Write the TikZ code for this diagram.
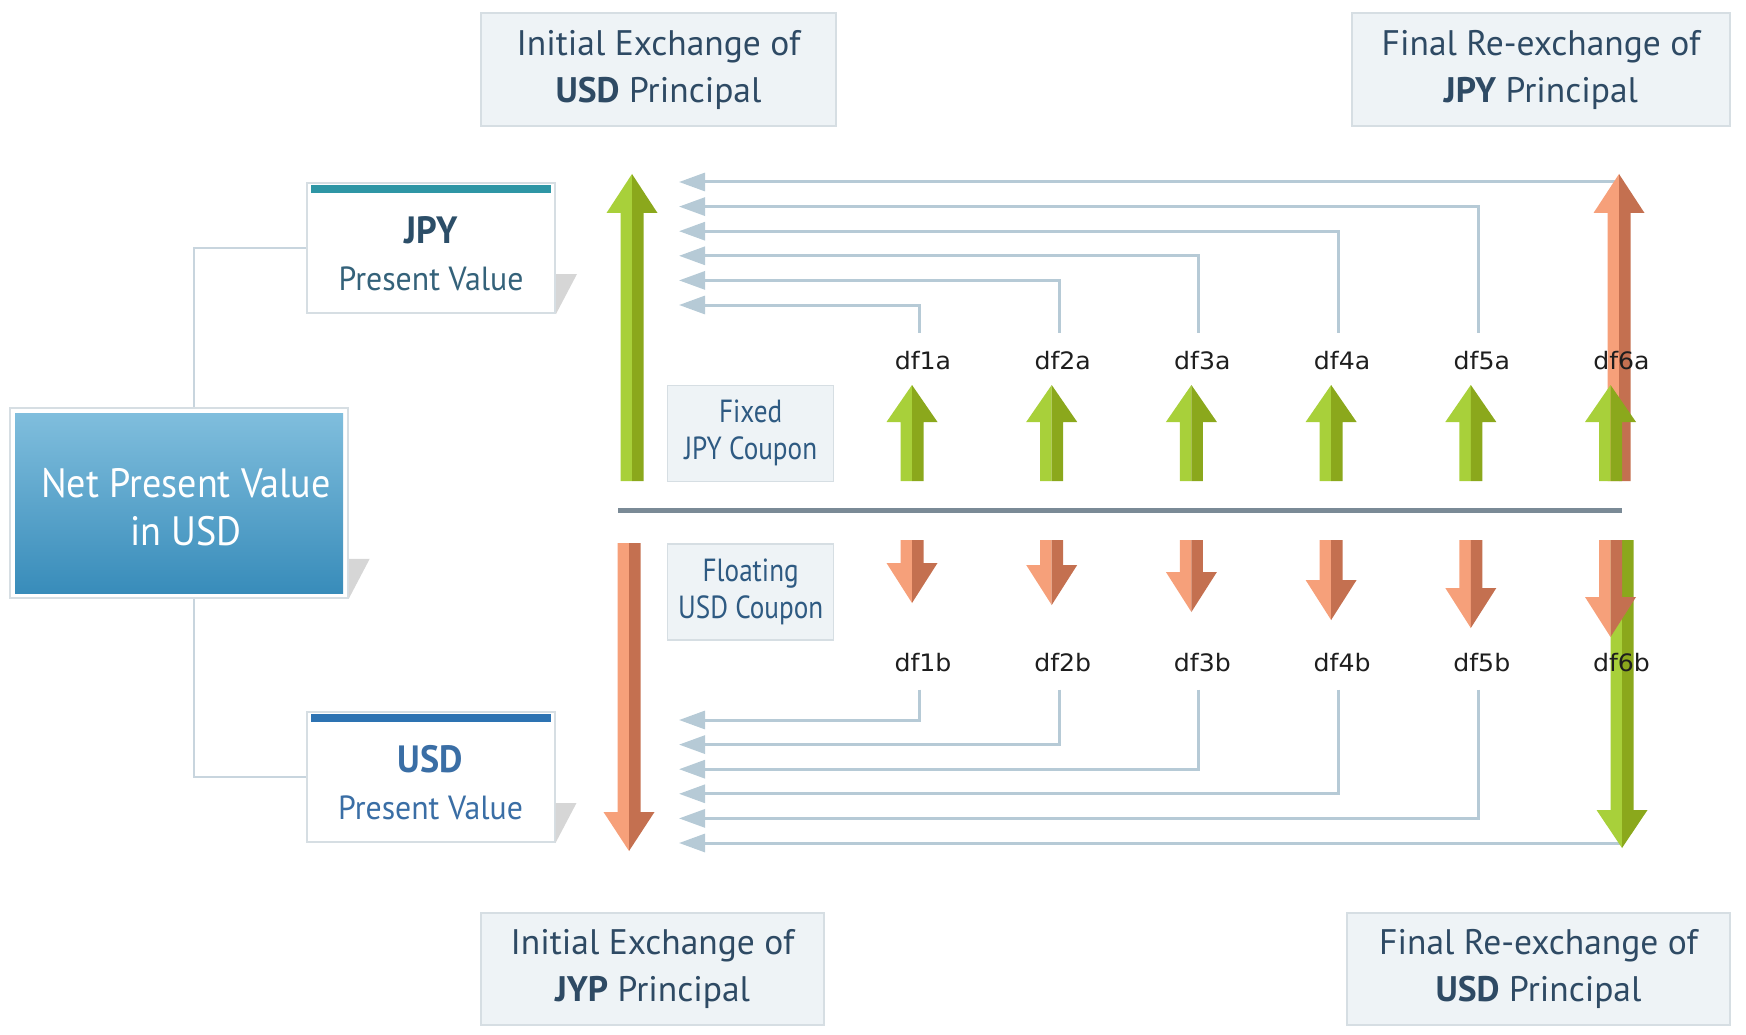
\documentclass[tikz,border=0pt]{standalone}
\usepackage{fontspec}
\setmainfont{PT Sans}
\newfontfamily\pvfont[FakeStretch=0.95]{PT Sans}
\newfontfamily\npvfont[FakeStretch=0.93]{PT Sans}
\newfontfamily\cpnfont[FakeStretch=0.85]{PT Sans}
\newfontfamily\dffont[FakeStretch=1.05]{DejaVu Sans}
\usetikzlibrary{arrows.meta,backgrounds}

\definecolor{grnlight}{RGB}{168,208,58}
\definecolor{grndark}{RGB}{139,168,28}
\definecolor{orglight}{RGB}{246,160,122}
\definecolor{orgdark}{RGB}{196,112,80}
\definecolor{connline}{RGB}{182,202,214}
\definecolor{linkline}{RGB}{200,213,222}
\definecolor{sepgrey}{RGB}{122,138,150}
\definecolor{boxfill}{RGB}{238,243,246}
\definecolor{boxline}{RGB}{214,222,227}
\definecolor{titletext}{RGB}{46,74,100}
\definecolor{jpyteal}{RGB}{46,150,165}
\definecolor{usdblue}{RGB}{45,115,178}
\definecolor{jpytext}{RGB}{44,78,104}
\definecolor{jpypv}{RGB}{52,98,122}
\definecolor{usdtext}{RGB}{58,110,165}
\definecolor{cpntext}{RGB}{46,90,130}
\definecolor{npvtop}{RGB}{128,190,221}
\definecolor{npvbot}{RGB}{56,140,186}
\definecolor{shadowgrey}{RGB}{214,214,214}
\definecolor{dftext}{RGB}{30,30,30}

% two-tone block arrow: x, base, head start, tip, light, dark
\newcommand{\blockarrow}[6]{%
  \fill[#5] (#1,#2) -- ({#1-11.5},#2) -- ({#1-11.5},#3) -- ({#1-25.5},#3) -- (#1,#4) -- cycle;
  \fill[#6] (#1,#2) -- ({#1+11.5},#2) -- ({#1+11.5},#3) -- ({#1+25.5},#3) -- (#1,#4) -- cycle;
}

\begin{document}
\begin{tikzpicture}[x=1pt, y=-1pt,
    titlebox/.style={draw=boxline, line width=2pt, fill=boxfill, text=titletext, align=center,
      inner sep=0pt, font=\fontsize{35.5}{47}\selectfont},
    cpnbox/.style={draw=boxline, line width=1.5pt, fill=boxfill, text=cpntext, align=center,
      inner sep=0pt, minimum width=166pt, minimum height=96pt, font=\cpnfont\fontsize{32}{37}\selectfont},
    pvframe/.style={draw=boxline, line width=2pt, fill=white, minimum width=248pt, minimum height=130pt},
    pvtext/.style={align=center, inner sep=0pt, font=\pvfont\fontsize{33.5}{47}\selectfont},
    dflabel/.style={anchor=base, inner xsep=0pt, inner ysep=18pt, text=dftext, font=\dffont\fontsize{24}{26}\selectfont},
    conn/.style={draw=connline, line width=3pt, -{Triangle[length=26pt,width=18pt]}},
    link/.style={draw=linkline, line width=2pt}]
    \useasboundingbox (0,0) rectangle (1746,1035);

    % exchange of principal
    \node[titlebox, minimum width=355pt, minimum height=113pt] (usdinit) at (658.5,69.5) {Initial Exchange of\\\textbf{USD} Principal};
    \node[titlebox, minimum width=378pt, minimum height=113pt] (jpyfin) at (1541,69.5) {Final Re-exchange of\\\textbf{JPY} Principal};
    \node[titlebox, minimum width=343pt, minimum height=112pt] (jypinit) at (652.5,969) {Initial Exchange of\\\textbf{JYP} Principal};
    \node[titlebox, minimum width=383pt, minimum height=112pt] (usdfin) at (1538.5,969) {Final Re-exchange of\\\textbf{USD} Principal};

    % net present value
    \node[draw=boxline, line width=1.5pt, fill=white, minimum width=338pt, minimum height=190pt] (npvframe) at (179,503) {};
    \fill[shadowgrey] ([yshift=40pt]npvframe.south east) -- ++(21,0) -- (npvframe.south east) -- cycle;
    \node[top color=npvtop, bottom color=npvbot, minimum width=328pt, minimum height=180pt] (npv) at (npvframe.center) {};
    \node[align=center, text=white, inner sep=0pt, font=\npvfont\fontsize{41}{48}\selectfont] (npvtxt) at ([shift={(7pt,-4pt)}]npv.center) {Net Present Value\\in USD};

    % present values
    \node[pvframe] (jpybox) at (431,248) {};
    \fill[shadowgrey] ([yshift=40pt]jpybox.south east) -- ++(21,0) -- (jpybox.south east) -- cycle;
    \fill[jpyteal] ([shift={(5pt,-3pt)}]jpybox.north west) rectangle ([shift={(-5pt,-11pt)}]jpybox.north east);
    \node[pvtext, text=jpytext] (jpytxt) at ([yshift=-6pt]jpybox.center) {{\bfseries\fontsize{38}{47}\selectfont JPY}\\{\color{jpypv}Present Value}};
    \node[pvframe] (usdbox) at (430.5,777) {};
    \fill[shadowgrey] ([yshift=40pt]usdbox.south east) -- ++(21,0) -- (usdbox.south east) -- cycle;
    \fill[usdblue] ([shift={(5pt,-3pt)}]usdbox.north west) rectangle ([shift={(-5pt,-11pt)}]usdbox.north east);
    \node[pvtext, text=usdtext] (usdtxt) at ([yshift=-6pt]usdbox.center) {{\bfseries\fontsize{38}{47}\selectfont USD}\\Present Value};
    \draw[link] ([xshift=15pt]npvframe.north) |- (jpybox.west);
    \draw[link] ([xshift=15pt]npvframe.south) |- (usdbox.west);

    % coupons
    \node[cpnbox] (fixcpn) at (750.7,433.3) {Fixed\\JPY Coupon};
    \node[cpnbox] (fltcpn) at (750.7,592) {Floating\\USD Coupon};
    \draw[line width=5pt, sepgrey] (618,510) -- (1622,510);

    % discount factors
    \foreach \i in {1,...,6} {
      \pgfmathsetmacro\lx{923+139.7*(\i-1)}
      \node[dflabel] (dfa\i) at (\lx,369) {df\i a};
      \node[dflabel] (dfb\i) at (\lx,671) {df\i b};
    }

    \begin{pgfonlayer}{background}
      \coordinate (jpyfintip) at (1619,182);
      \coordinate (usdfintip) at (1622,843);
      \foreach \i in {1,...,5} {
        \pgfmathsetmacro\ya{305-24.6*(\i-1)}
        \pgfmathsetmacro\yb{720+24.6*(\i-1)}
        \coordinate (tipa\i) at (679,\ya);
        \coordinate (tipb\i) at (679,\yb);
        \draw[conn] ([xshift=-3.5pt]dfa\i.north) |- (tipa\i);
        \draw[conn] ([xshift=-3.5pt]dfb\i.south) |- (tipb\i);
      }
      \coordinate (tipa6) at (679,182);
      \coordinate (tipb6) at (679,843);
      \draw[conn] (jpyfintip) -- (tipa6);
      \draw[conn] (usdfintip) -- (tipb6);

      \blockarrow{632}{481}{213}{174}{grnlight}{grndark}
      \blockarrow{629}{543}{812}{851}{orglight}{orgdark}
      \blockarrow{1619}{481}{213}{174}{orglight}{orgdark}
      \blockarrow{1622}{540}{810}{848}{grnlight}{grndark}

      \foreach \i/\ot in {1/603,2/605,3/612,4/620,5/628,6/637} {
        \pgfmathsetmacro\ax{912+139.7*(\i-1)}
        \pgfmathsetmacro\oh{\ot-40}
        \blockarrow{\ax}{481}{422}{385}{grnlight}{grndark}
        \blockarrow{\ax}{540}{\oh}{\ot}{orglight}{orgdark}
      }
    \end{pgfonlayer}
\end{tikzpicture}
\end{document}
